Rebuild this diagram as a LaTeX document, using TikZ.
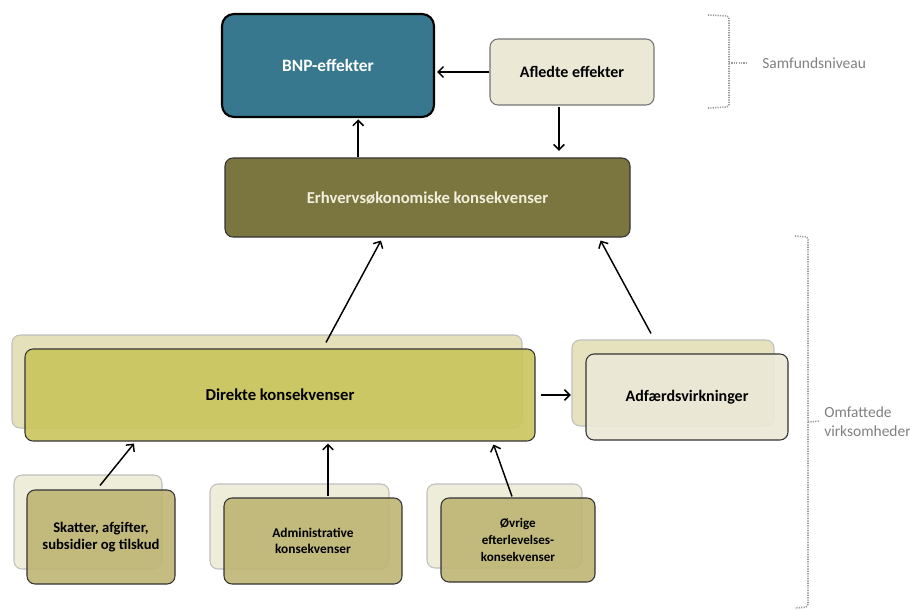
\documentclass[tikz,border=0pt]{standalone}
\usepackage{fontspec}
\setmainfont{Carlito}
\usepackage{tikz}
\usepackage{xcolor}
\usetikzlibrary{calc}
\usetikzlibrary{arrows.meta}

\definecolor{bnpblue}{HTML}{37788F}
\definecolor{olivedark}{HTML}{7B7640}
\definecolor{olivetext}{HTML}{F2F0DC}
\definecolor{directfill}{HTML}{CBC55E}
\definecolor{directback}{HTML}{E3E0BA}
\definecolor{paleback}{HTML}{EEEDDA}
\definecolor{khaki}{HTML}{BFB676}
\definecolor{cream}{HTML}{EBE8D6}
\definecolor{creamback}{HTML}{E6E2BE}
\definecolor{bracketgray}{HTML}{9A9A9A}

\begin{document}
\begin{tikzpicture}[x=0.75pt,y=-0.75pt,
  sz/.style 2 args={minimum width=#1*0.75pt, minimum height=#2*0.75pt},
  box/.style={draw=black!80, line width=0.8pt, rounded corners=6pt, align=center,
    inner sep=0pt, font=\fontsize{12.5}{15}\selectfont\bfseries},
  backbox/.style={draw=black!25, line width=0.8pt, rounded corners=6pt, inner sep=0pt},
  smallbox/.style={box, fill=khaki, fill opacity=0.92, text opacity=1},
  arr/.style={-{Straight Barb[length=4pt,width=8pt]}, line width=1.1pt, black},
  brk/.style={bracketgray, line width=1.2pt, dash pattern=on 0.9pt off 0.9pt, rounded corners=2pt},
  lbl/.style={text=black!50, font=\fontsize{11.6}{14}\selectfont, align=left, inner sep=0pt}]
\useasboundingbox (0,0) rectangle (910,610);

\node[box, sz={212}{103}, fill=bnpblue, text=white, line width=1.6pt, draw=black, rounded corners=9pt, font=\fontsize{13}{15}\selectfont\bfseries] (bnp) at (328,65.5) {BNP-effekter};
\node[box, sz={164}{66}, fill=cream, draw=black!55, font=\fontsize{12}{15}\selectfont\bfseries] (afl) at (572,72) {Afledte effekter};
\node[box, sz={405}{79}, fill=olivedark, text=olivetext] (erh) at (427.5,197.5) {Erhvervsøkonomiske konsekvenser};

\node[backbox, sz={510}{93}, fill=directback] (dirb) at (267,381.5) {};
\node[box, sz={510}{92}, fill=directfill, fill opacity=0.92, text opacity=1] (dir) at (280,395) {Direkte konsekvenser};

\node[backbox, sz={202}{86}, fill=creamback] (adfb) at (673,383) {};
\node[box, sz={202}{86}, fill=cream, fill opacity=0.92, text opacity=1, font=\fontsize{12}{15}\selectfont\bfseries] (adf) at (687,397) {Adfærdsvirkninger};

\node[backbox, sz={148}{94}, fill=paleback] (skab) at (88,522) {};
\node[smallbox, sz={148}{94}, font=\fontsize{11}{12.75}\selectfont\bfseries] (ska) at (101,537) {Skatter, afgifter,\\subsidier og tilskud};

\node[backbox, sz={179}{85}, fill=paleback] (admb) at (299.5,526.5) {};
\node[smallbox, sz={178}{86}, font=\fontsize{10}{12.5}\selectfont\bfseries] (adm) at (313,541) {Administrative\\konsekvenser};

\node[backbox, sz={155}{84}, fill=paleback] (ovrb) at (504.5,526) {};
\node[smallbox, sz={154}{84}, font=\fontsize{9.8}{13}\selectfont\bfseries] (ovr) at (518,540) {Øvrige\\efterlevelses-\\konsekvenser};

\draw[arr, shorten >=1.5pt] (afl.west) -- (afl.west -| bnp.east);
\draw[arr, shorten <=1pt, shorten >=5pt] ([xshift=-9.75pt]afl.south) -- ([xshift=-9.75pt]afl.south |- erh.north);
\draw[arr, shorten >=1pt] ([xshift=-52pt]erh.north) -- ([xshift=-52pt]erh.north |- bnp.south);
\draw[arr] ([xshift=44.25pt,yshift=-6pt]dirb.north) -- ([xshift=-34.9pt,yshift=-2.25pt]erh.south);
\draw[arr] ([xshift=-16.5pt,yshift=4.5pt]adfb.north) -- ([xshift=-22.5pt,yshift=-2.25pt]erh.south east);
\draw[arr, shorten <=3.75pt, shorten >=0.5pt] (dir.east) -- (dir.east -| adfb.west);
\draw[arr] ([xshift=-0.75pt,yshift=3pt]ska.north) -- ([xshift=-109.5pt,yshift=-1.5pt]dir.south);
\draw[arr, shorten >=1.5pt] ([xshift=11.25pt,yshift=0.75pt]adm.north) -- ([xshift=11.25pt]adm.north |- dir.south);
\draw[arr] ([xshift=-4.5pt,yshift=0.75pt]ovr.north) -- ([xshift=-31.5pt,yshift=-2.25pt]dir.south east);

\draw[brk] (708,15) -- (729,16) -- (729,107) -- (708,108);
\draw[brk] (729,63) -- (748,63);
\node[lbl, anchor=west] (sam) at (762,63) {Samfundsniveau};

\draw[brk] (795,236) -- (808,237) -- (808,607) -- (795,608);
\draw[brk] (808,422) -- (820,421);
\node[lbl, anchor=west] (omf) at (824,422) {Omfattede\\virksomheder};
\end{tikzpicture}
\end{document}
